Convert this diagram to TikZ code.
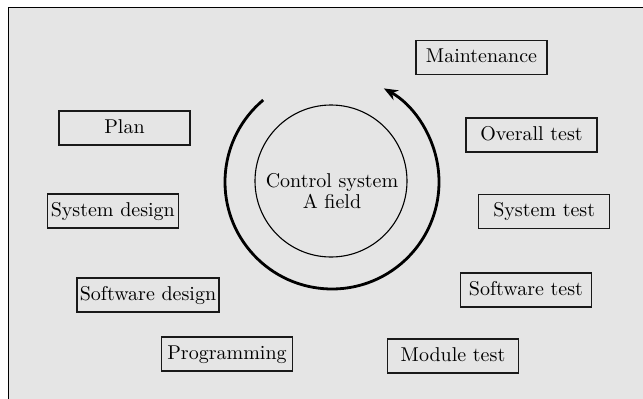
\documentclass[tikz,border=0pt]{standalone}
\usetikzlibrary{arrows.meta,calc}
\definecolor{panel}{HTML}{E5E5E5}
\begin{document}
\begin{tikzpicture}[x=0.5pt,y=0.5pt,
  phase/.style={draw=black!90, line width=0.65pt, rectangle,
    minimum width=65.5pt, minimum height=17pt, inner xsep=1.5pt, inner ysep=0pt,
    text height=7pt, text depth=2pt, font=\fontsize{10}{12}\selectfont},
  hub/.style={draw=black, line width=0.55pt, circle, minimum size=76pt, inner sep=0pt},
  hubtext/.style={align=center, inner sep=0pt, font=\fontsize{10}{10.75}\selectfont}]
  \useasboundingbox (0,0) rectangle (643,398);
  \clip (0,0) rectangle (643,398);
  % panel with its border
  \draw[fill=panel, draw=black, line width=0.6pt] (8.5,-10) rectangle (660,390.5);
  % phases of the life cycle
  \node[phase] (maint) at (481.5,340.3) {Maintenance};
  \node[phase] (plan)  at (124.5,270)   {Plan};
  \node[phase] (otest) at (531.5,263)   {Overall test};
  \node[phase] (sdes)  at (112.8,187)   {System design};
  \node[phase] (stest) at (544.2,186.8) {System test};
  \node[phase] (swdes) at (148,103)     {Software design};
  \node[phase] (swtest) at (526,108)    {Software test};
  \node[phase] (prog)  at (227,44)      {Programming};
  \node[phase] (mtest) at (453,42)      {Module test};
  % central field
  \node[hub] (hub) at (331,217) {};
  \node[hubtext] (hubtext) at ($(hub.center)+(1,-10)$) {Control system\\A field};
  % cycle arrow around the field
  \coordinate (cycstart) at ($(332,216)+(130:107)$);
  \draw[line width=1.4pt, -{Stealth[length=7pt,width=5.5pt]}]
    (cycstart) arc[start angle=130, end angle=421, radius=107];
\end{tikzpicture}
\end{document}
